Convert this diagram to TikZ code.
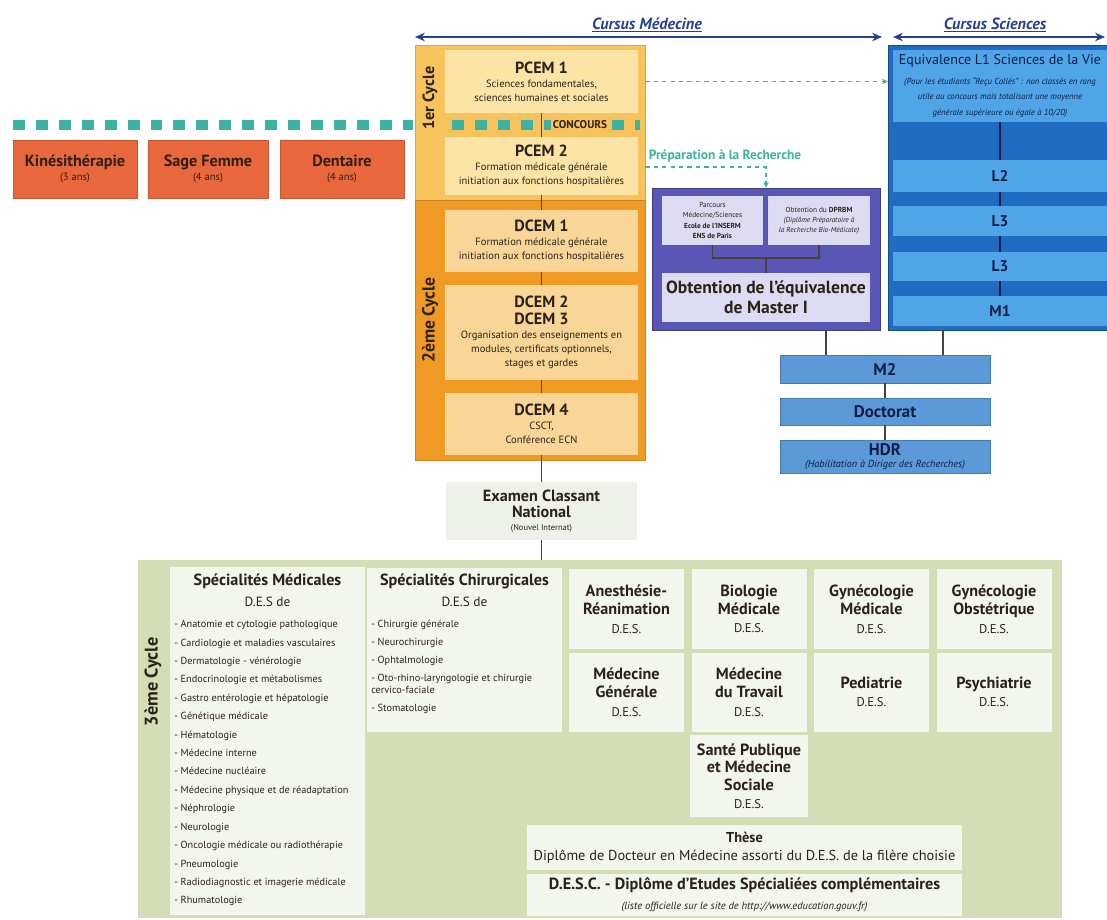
\documentclass[tikz,border=0pt]{standalone}
\usepackage{fontspec}
\setmainfont{PT Sans}
\usetikzlibrary{arrows.meta}

\definecolor{ink}{HTML}{2B2118}
\definecolor{navy}{HTML}{25418F}
\definecolor{kine}{HTML}{E9673D}
\definecolor{tealdot}{HTML}{3DB2A2}
\definecolor{cycleone}{HTML}{F6C35C}
\definecolor{pcembox}{HTML}{FBE4A6}
\definecolor{cycletwo}{HTML}{EF9A24}
\definecolor{dcembox}{HTML}{F9D597}
\definecolor{examfill}{HTML}{EEF1EA}
\definecolor{purpleout}{HTML}{5A56B6}
\definecolor{lavender}{HTML}{DCDBF1}
\definecolor{sciout}{HTML}{1F6CC2}
\definecolor{scilight}{HTML}{4FA5E6}
\definecolor{docblue}{HTML}{5B99D8}
\definecolor{sciink}{HTML}{0F1E48}
\definecolor{greenbg}{HTML}{D3DEB6}
\definecolor{greencell}{HTML}{F3F6EF}

\newcommand{\hd}[1]{{\bfseries\fontsize{11.5}{13}\selectfont #1}}
\newcommand{\ct}[1]{{\bfseries\fontsize{11.5}{13}\selectfont #1}}
\newcommand{\tinyit}[1]{{\mdseries\itshape\fontsize{6.2}{8.5}\selectfont #1}}

\tikzset{
  wh/.style 2 args={minimum width=#1*0.025cm, minimum height=#2*0.025cm},
  box/.style={inner sep=0pt, align=center, text=ink, font=\fontsize{7.5}{10}\selectfont},
  redbox/.style={box, fill=kine, draw=kine!85!black, line width=0.4pt},
  outerone/.style={box, fill=cycleone, draw=cycleone!85!black, line width=0.4pt},
  outertwo/.style={box, fill=cycletwo, draw=cycletwo!85!black, line width=0.4pt},
  pcem/.style={box, fill=pcembox},
  dcem/.style={box, fill=dcembox},
  cyclelabel/.style={rotate=90, font=\bfseries\fontsize{12.5}{14}\selectfont, text=ink, inner sep=1pt},
  link/.style={draw=ink!85, line width=0.8pt},
  cursus/.style={draw=navy, line width=1pt},
  cursustxt/.style={text=navy, font=\bfseries\itshape\fontsize{11.5}{13}\selectfont, inner sep=1pt},
  tealrow/.style={draw=tealdot, line width=6.5pt, dash pattern=on 8.5pt off 7.8pt},
  prep/.style={draw=tealdot, line width=1.2pt, dash pattern=on 3pt off 3pt},
  preptxt/.style={text=tealdot, font=\bfseries\fontsize{9.5}{11}\selectfont, inner sep=1pt},
  purplebox/.style={box, fill=purpleout, draw=purpleout!70!black, line width=0.6pt},
  lav/.style={box, fill=lavender, font=\fontsize{5.2}{7.2}\selectfont},
  sciouter/.style={box, fill=sciout, draw=sciout!70!black, line width=0.6pt},
  sciband/.style={box, fill=scilight, text=sciink, font=\bfseries\fontsize{11}{12}\selectfont},
  docbox/.style={box, fill=docblue, draw=docblue!80!black, line width=0.3pt, text=sciink, font=\bfseries\fontsize{12}{13}\selectfont},
  greenarea/.style={box, fill=greenbg},
  cell/.style={box, fill=greencell, font=\fontsize{9}{13}\selectfont},
  celltitle/.style={text=ink, font=\bfseries\fontsize{11.5}{13}\selectfont, inner sep=0pt},
  cellsub/.style={text=ink, font=\fontsize{9.5}{11}\selectfont, inner sep=0pt},
  speclist/.style={text=ink, align=left, inner sep=0pt, font=\fontsize{7.3}{13.1}\selectfont}
}

\begin{document}
\begin{tikzpicture}[x=0.025cm, y=-0.025cm, >={Stealth[length=7pt,width=6pt]}]
\useasboundingbox (0,0) rectangle (1107,920);

% en-tetes des cursus
\coordinate (medL) at (415,37);
\coordinate (medR) at (882,37);
\coordinate (sciL) at (893,37);
\coordinate (sciR) at (1105,37);
\draw[cursus, <->] (medL) -- (medR);
\draw[cursus, <->] (sciL) -- (sciR);
\node[cursustxt] (medtitle) at (647,25) {\underline{Cursus Médecine}};
\node[cursustxt] (scititle) at (995,25) {\underline{Cursus Sciences}};

% filieres paramedicales
\node[redbox, wh={124}{58}] (kine) at (75,169) {\hd{Kinésithérapie}\\(3 ans)};
\node[redbox, wh={120}{58}] (sage) at (208,169) {\hd{Sage Femme}\\(4 ans)};
\node[redbox, wh={124}{58}] (dent) at (342,169) {\hd{Dentaire}\\(4 ans)};

% cursus medecine
\node[outerone, wh={230}{155}] (cycleone) at (530,122.5) {};
\node[outertwo, wh={230}{260}] (cycletwo) at (530,330) {};
\node[pcem, wh={193}{63}] (pcem1) at (541.5,81.5) {\hd{PCEM 1}\\Sciences fondamentales,\\sciences humaines et sociales};
\node[pcem, wh={193}{58}] (pcem2) at (541.5,166) {\hd{PCEM 2}\\Formation médicale générale\\initiation aux fonctions hospitalières};
\node[dcem, wh={193}{62}] (dcem1) at (541.5,241) {\hd{DCEM 1}\\Formation médicale générale\\initiation aux fonctions hospitalières};
\node[dcem, wh={193}{95}] (dcem23) at (541.5,332.5) {\hd{DCEM 2}\\[1.5pt]\hd{DCEM 3}\\Organisation des enseignements en\\modules, certificats optionnels,\\stages et gardes};
\node[dcem, wh={193}{62}] (dcem4) at (541.5,424) {\hd{DCEM 4}\\CSCT,\\Conférence ECN};
\node[box, fill=examfill, wh={191}{58}] (examen) at (541.5,511) {\hd{Examen Classant}\\[2pt]\hd{National}\\[-1pt]{\fontsize{6}{7}\selectfont(Nouvel Internat)}};

% concours
\coordinate (rowL) at (13,125);
\coordinate (rowA) at (413,125);
\coordinate (rowB) at (452,125);
\coordinate (rowR) at (640,125);
\draw[tealrow] (rowL) -- (rowA);
\draw[tealrow] (rowB) -- (rowR);
\node[box, fill=cycleone, font=\bfseries\fontsize{8}{9}\selectfont, inner sep=1.5pt] (concours) at (580,125) {CONCOURS};
\node[cyclelabel, font=\bfseries\fontsize{11.5}{13}\selectfont] (lblone) at (430,98) {1er Cycle};
\node[cyclelabel] (lbltwo) at (430,320) {2ème Cycle};

\draw[link] (pcem1) -- (pcem2);
\draw[link] (pcem2) -- (dcem1);
\draw[link] (dcem1) -- (dcem23);
\draw[link] (dcem23) -- (dcem4);
\draw[link] (dcem4) -- (examen);

% cursus sciences
\node[sciouter, wh={219}{285}] (sci) at (997.5,187.5) {};
\node[sciband, wh={214}{72}, font=\mdseries\fontsize{10}{11}\selectfont] (scihead) at (1000,86) {Equivalence L1 Sciences de la Vie\\[3pt]
  \tinyit{(Pour les étudiants ``Reçu Collés'' : non classés en rang}\\\tinyit{utile au concours mais totalisant une moyenne}\\\tinyit{générale supérieure ou égale à 10/20)}};
\node[sciband, wh={214}{32}] (ltwo) at (1000,176) {L2};
\node[sciband, wh={214}{30}] (lthree) at (1000,221) {L3};
\node[sciband, wh={214}{29}] (lthreeb) at (1000,266.5) {L3};
\node[sciband, wh={214}{30}] (mone) at (1000,311) {M1};
\draw[link, draw=sciink] (scihead) -- (ltwo);
\draw[link, draw=sciink] (ltwo) -- (lthree);
\draw[link, draw=sciink] (lthree) -- (lthreeb);
\draw[link, draw=sciink] (lthreeb) -- (mone);

\draw[prep, ->, >={Stealth[length=4pt,width=4pt]}] (cycleone.east |- pcem1.east) -- (sci.west |- pcem1.east);

% preparation a la recherche
\node[preptxt] (preplabel) at (725,156) {Préparation à la Recherche};
\node[purplebox, wh={228}{142}] (purple) at (766,259) {};
\draw[prep, ->, >={Stealth[length=4pt,width=4pt]}] (cycleone.east |- 0,167) -| (purple.north);
\node[lav, wh={101}{49}] (parcours) at (712.5,220.5) {Parcours\\Médecine/Sciences\\\textbf{Ecole de l'INSERM}\\\textbf{ENS de Paris}};
\node[lav, wh={102}{49}] (dprbm) at (819,220.5) {Obtention du \textbf{DPRBM}\\\textit{(Diplôme Préparatoire à}\\\textit{la Recherche Bio-Médicale)}};
\node[lav, wh={208}{49}, font=\bfseries\fontsize{12.5}{14.5}\selectfont] (master) at (766,297.5) {Obtention de l'équivalence\\de Master I};
\coordinate (brk) at (766,258);
\draw[link] (parcours.south) |- (brk) -| (dprbm.south);
\draw[link] (brk) -- (master.north);

% M2, doctorat, HDR
\node[docbox, wh={210}{28}] (mtwo) at (885,369) {M2};
\node[docbox, wh={210}{27}] (doct) at (885,411.5) {Doctorat};
\node[docbox, wh={210}{33}] (hdr) at (885,456.5) {HDR\\[-4pt]{\mdseries\itshape\fontsize{7.3}{8}\selectfont (Habilitation à Diriger des Recherches)}};
\draw[link] (purple.south -| 826,0) -- (mtwo.north -| 826,0);
\draw[link] (sci.south -| 943,0) -- (mtwo.north -| 943,0);
\draw[link] (mtwo) -- (doct);
\draw[link] (doct) -- (hdr);

% 3eme cycle
\node[greenarea, wh={924}{358}] (green) at (600,739) {};
\draw[link] (examen) -- (examen.south |- green.north);
\node[cyclelabel, font=\bfseries\fontsize{13}{14}\selectfont] (lblthree) at (153,682) {3ème Cycle};

\node[cell, wh={195}{348}] (medic) at (267.5,741) {};
\node[celltitle] (medtitle) at (267.5,581) {Spécialités Médicales};
\node[cellsub] (medsub) at (267.5,602) {D.E.S de};
\node[speclist, anchor=north west] (medlist) at (174,620) {- Anatomie et cytologie pathologique\\- Cardiologie et maladies vasculaires\\- Dermatologie - vénérologie\\- Endocrinologie et métabolismes\\- Gastro entérologie et hépatologie\\- Génétique médicale\\- Hématologie\\- Médecine interne\\- Médecine nucléaire\\- Médecine physique et de réadaptation\\- Néphrologie\\- Neurologie\\- Oncologie médicale ou radiothérapie\\- Pneumologie\\- Radiodiagnostic et imagerie médicale\\- Rhumatologie};

\node[cell, wh={195}{164}] (chir) at (464.5,650) {};
\node[celltitle] (chirtitle) at (464.5,581) {Spécialités Chirurgicales};
\node[cellsub] (chirsub) at (464.5,602) {D.E.S de};
\node[speclist, anchor=north west, font=\fontsize{7.3}{12.8}\selectfont] (chirlist) at (371,620) {- Chirurgie générale\\- Neurochirurgie\\- Ophtalmologie\\- Oto-rhino-laryngologie et chirurgie\\[-4.3pt]cervico-faciale\\- Stomatologie};

\node[cell, wh={115}{80}] (anesth) at (626.5,609) {\ct{Anesthésie-}\\\ct{Réanimation}\\D.E.S.};
\node[cell, wh={115}{80}] (biolo) at (749,609) {\ct{Biologie}\\\ct{Médicale}\\D.E.S.};
\node[cell, wh={115}{80}] (gynmed) at (871.5,609) {\ct{Gynécologie}\\\ct{Médicale}\\D.E.S.};
\node[cell, wh={115}{80}] (gynobs) at (994,609) {\ct{Gynécologie}\\\ct{Obstétrique}\\D.E.S.};
\node[cell, wh={115}{79}] (medgen) at (626.5,692) {\ct{Médecine}\\\ct{Générale}\\D.E.S.};
\node[cell, wh={115}{79}] (medtrav) at (749,692) {\ct{Médecine}\\\ct{du Travail}\\D.E.S.};
\node[cell, wh={115}{79}] (pedia) at (871.5,692) {\ct{Pediatrie}\\D.E.S.};
\node[cell, wh={115}{79}] (psych) at (994,692) {\ct{Psychiatrie}\\D.E.S.};
\node[cell, wh={118}{82}, font=\fontsize{9}{12.5}\selectfont] (sante) at (749,776) {\ct{Santé Publique}\\\ct{et Médecine}\\\ct{Sociale}\\D.E.S.};

\node[cell, wh={435}{45}, font=\fontsize{10.2}{12.5}\selectfont] (these) at (744.5,847.5) {\textbf{Thèse}\\Diplôme de Docteur en Médecine assorti du D.E.S. de la filère choisie};
\node[cell, wh={435}{42}, font=\fontsize{11.5}{14}\selectfont] (desc) at (744.5,895) {\textbf{D.E.S.C. - Diplôme d'Etudes Spécialiées complémentaires}\\{\itshape\fontsize{7.5}{8}\selectfont (liste officielle sur le site de http://www.education.gouv.fr)}};
\end{tikzpicture}
\end{document}
